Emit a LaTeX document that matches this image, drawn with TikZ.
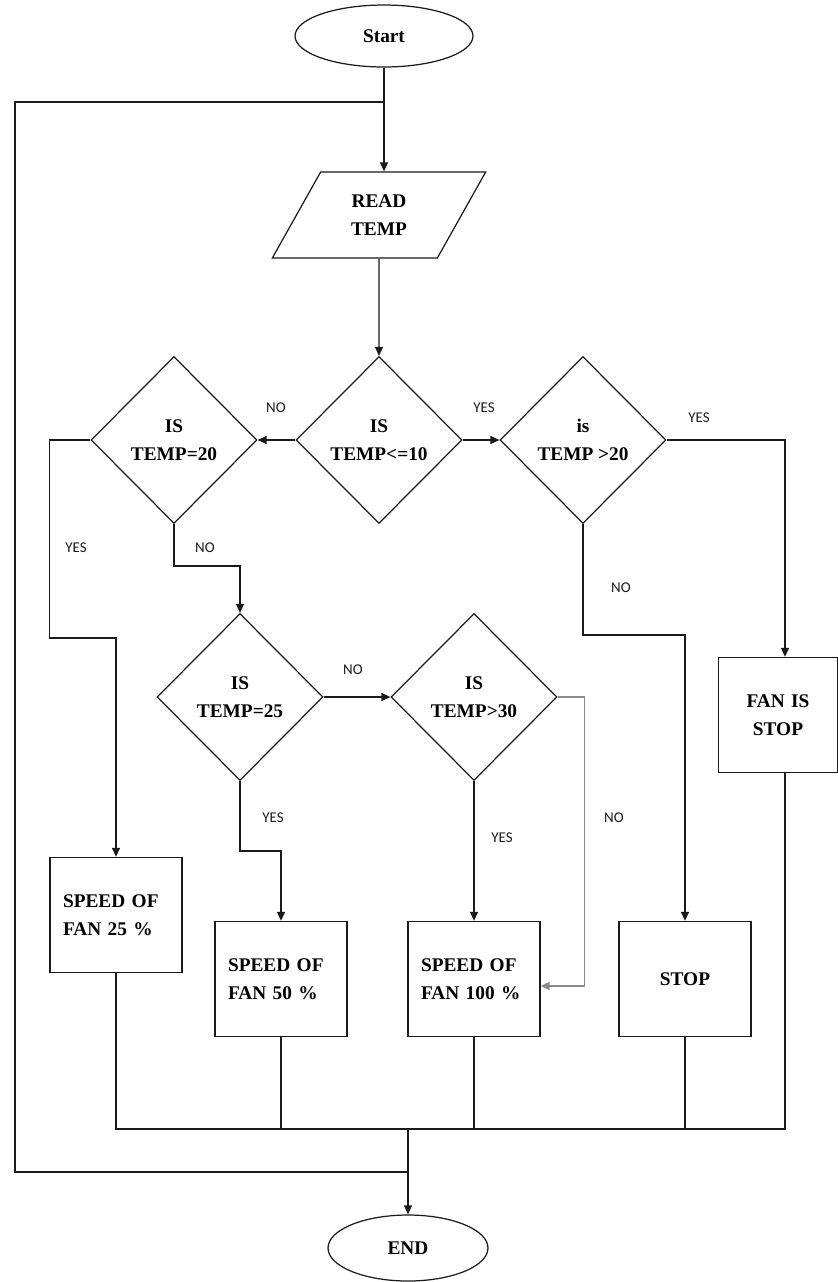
\documentclass[tikz,border=0pt]{standalone}
\usepackage{fontspec}
\setmainfont{Liberation Serif}
\newfontfamily\lblfont{Carlito}
\usepackage{tikz}
\usetikzlibrary{arrows.meta,positioning,calc,shapes.geometric}
\definecolor{Ink}{HTML}{1A1A1A}
\definecolor{Wire}{HTML}{8A8A8A}

\begin{document}
\begin{tikzpicture}[
  x=0.02cm,y=-0.02cm,
  every node/.style={font=\bfseries\fontsize{11}{16}\selectfont},
  terminal/.style={ellipse,draw=Ink,line width=0.7pt,inner sep=0pt},
  decision/.style={diamond,draw=Ink,line width=0.7pt,minimum width=3.32cm,minimum height=3.34cm,inner sep=0pt,align=center},
  io/.style={trapezium,trapezium left angle=62,trapezium right angle=118,trapezium stretches=true,draw=Ink,line width=0.7pt,minimum width=4.28cm,minimum height=1.72cm,align=center},
  process/.style={rectangle,draw=Ink,line width=0.8pt,inner xsep=0.26cm,text width=2.12cm,align=left,minimum height=2.3cm},
  arrow/.style={-{Triangle[length=1.8mm,width=1.6mm]},line width=0.8pt,draw=Ink},
  wire/.style={line width=0.7pt,draw=Ink},
  lbl/.style={font=\lblfont\fontsize{8.5}{10}\selectfont,text=Ink}
]
\useasboundingbox (0,0) rectangle (838,1282);
\node[terminal,minimum width=3.56cm,minimum height=1.24cm] (start) at (384,36) {Start};
\node[io] (read) at (379,215) {READ\\TEMP};
\node[decision] (d1) at (379,440) {IS\\TEMP<=10};
\node[decision] (d2) at (174,440) {IS\\TEMP=20};
\node[decision] (d3) at (583,440) {is\\TEMP >20};
\node[decision] (d4) at (240,697) {IS\\TEMP=25};
\node[decision] (d5) at (474,697) {IS\\TEMP>30};
\node[process,text width=1.86cm,align=center] (fanstop) at (778,715) {FAN IS\\STOP};
\node[process] (sp25) at (116,915) {SPEED OF\\FAN 25 \%};
\node[process] (sp50) at (281,979) {SPEED OF\\FAN 50 \%};
\node[process] (sp100) at (474,979) {SPEED OF\\FAN 100 \%};
\node[process,align=center] (stop) at (685,979) {STOP};
\node[terminal,minimum width=3.2cm,minimum height=1.32cm] (end) at (408,1248) {END};

\coordinate (split) at (384,102);
\coordinate (join) at (408,1129);
\coordinate (merge) at (408,1172);
\coordinate (fsin) at ([xshift=0.14cm]fanstop.north);
\coordinate (fsout) at ([xshift=0.14cm]fanstop.south);

\draw[arrow] (start.south) -- (start.south |- read.north);
\draw[wire] (split) -| (15,1172) -- (merge);
\draw[arrow] (read) -- (d1);
\draw[arrow] (d1.west) -- (d2.east);
\draw[arrow] (d1.east) -- (d3.west);
\draw[arrow] (d3.east) -| (fsin);
\draw[arrow] (d3.south) -- ++(0,111) -| (stop.north);
\draw[arrow] (d2.west) -| ++(-41,198) -| (sp25.north);
\draw[arrow] (d2.south) -- ++(0,42) -| (d4.north);
\draw[arrow] (d4.east) -- (d5.west);
\draw[arrow] (d4.south) -- ++(0,70) -| (sp50.north);
\draw[arrow] (d5.south) -- (sp100.north);
\draw[arrow,draw=Wire] (d5.east) -- ++(27,0) |- ([yshift=-0.14cm]sp100.east);
\draw[wire] (sp25.south) |- (fsout |- join) -- (fsout);
\draw[wire] (sp50.south) -- (sp50.south |- join);
\draw[wire] (sp100.south) -- (sp100.south |- join);
\draw[wire] (stop.south) -- (stop.south |- join);
\draw[arrow] (join) -- (end.north);

\node[lbl] (no1) at (276,408) {NO};
\node[lbl] (yes1) at (484,408) {YES};
\node[lbl] (yes2) at (699,418) {YES};
\node[lbl] (no2) at (621,588) {NO};
\node[lbl] (yes3) at (76,548) {YES};
\node[lbl] (no3) at (205,548) {NO};
\node[lbl] (no4) at (353,670) {NO};
\node[lbl] (yes4) at (273,818) {YES};
\node[lbl] (yes5) at (502,838) {YES};
\node[lbl] (no5) at (614,818) {NO};
\end{tikzpicture}
\end{document}
